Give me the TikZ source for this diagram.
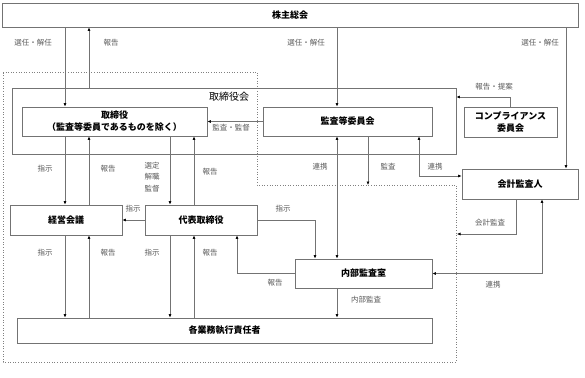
\documentclass[tikz,border=0pt]{standalone}
\usepackage{fontspec}
\setmainfont{Noto Sans CJK JP}
\usetikzlibrary{arrows.meta}

\tikzset{
  box/.style={draw=black!55, line width=0.8pt, fill=white, inner sep=0pt,
              align=center, font=\fontsize{9}{12}\selectfont\bfseries},
  lbl/.style={text=black!65, inner sep=0pt, align=center,
              font=\fontsize{7.5}{11.5}\selectfont},
  arr/.style={draw=black!55, line width=0.6pt, -{Latex[length=3.5pt,width=3pt,black]}},
  biarr/.style={draw=black!55, line width=0.6pt,
                {Latex[length=3.5pt,width=3pt,black]}-{Latex[length=3.5pt,width=3pt,black]}},
  region/.style={draw=black!50, line width=0.6pt, dotted},
}

\begin{document}
\begin{tikzpicture}[x=1pt, y=-1pt]
    \useasboundingbox (0,0) rectangle (585,377);

    % 取締役会の管轄範囲（点線）
    \coordinate (dotTop) at (368,185);
    \coordinate (dotSide) at (457,234);
    \draw[region] (3,72) -- (257,72) -- (257,185) -- (456,185) -- (456,362) -- (3,362) -- cycle;

    % 取締役会
    \node[box, fill=none, minimum width=444, minimum height=66] (torikai) at (234,121) {};
    \node[font=\fontsize{10}{12}\selectfont, inner sep=0pt] (torikaiLbl) at (229,97) {取締役会};

    % 機関
    \node[box, minimum width=576, minimum height=24] (kabu) at (290,15) {株主総会};
    \node[box, minimum width=185, minimum height=29] (tori) at (114.5,121.5) {取締役\\（監査等委員であるものを除く）};
    \node[box, minimum width=169, minimum height=29] (kansa) at (347.5,121.5) {監査等委員会};
    \node[box, minimum width=93, minimum height=30] (comp) at (510.5,122) {コンプライアンス\\委員会};
    \node[box, minimum width=116, minimum height=30] (kaikei) at (520,184) {会計監査人};
    \node[box, minimum width=112, minimum height=30] (keiei) at (66,220) {経営会議};
    \node[box, minimum width=112, minimum height=30] (daihyo) at (201,220) {代表取締役};
    \node[box, minimum width=137, minimum height=29] (naibu) at (363.5,273.5) {内部監査室};
    \node[box, minimum width=415, minimum height=25] (gyomu) at (224.5,330.5) {各業務執行責任者};

    % 株主総会との関係
    \draw[arr] (kabu.south -| 65,0) -- (tori.north -| 65,0);
    \draw[arr] (torikai.north -| 89,0) -- (kabu.south -| 89,0);
    \draw[arr] (kabu.south -| 337,0) -- (kansa.north -| 337,0);
    \draw[arr] (kabu.south -| 566,0) -- (kaikei.north -| 566,0);
    \node[lbl] (l1) at (33,43) {選任・解任};
    \node[lbl] (l2) at (111,43) {報告};
    \node[lbl] (l3) at (306,43) {選任・解任};
    \node[lbl] (l4) at (540,43) {選任・解任};

    % コンプライアンス委員会
    \draw[arr] (comp.north) |- (torikai.east |- 0,97);
    \node[lbl] (l5) at (494,87) {報告・提案};

    % 監査等委員会
    \draw[arr] (kansa.west) -- (tori.east);
    \node[lbl] (l6) at (231,128) {監査・監督};
    \draw[biarr] (kansa.south -| 337,0) -- (naibu.north -| 337,0);
    \node[lbl] (l7) at (320,167) {連携};
    \draw[arr] (kansa.south -| 368,0) -- (dotTop);
    \node[lbl] (l8) at (388,167) {監査};
    \draw[biarr] (kansa.south -| 419,0) |- (kaikei.west |- 0,176);
    \node[lbl] (l9) at (435,167) {連携};

    % 会計監査人
    \draw[arr] (kaikei.south -| 516,0) |- (dotSide);
    \node[lbl] (l10) at (490,223) {会計監査};
    \draw[biarr] (naibu.east) -| (kaikei.south -| 542,0);
    \node[lbl] (l11) at (493,285) {連携};

    % 取締役と経営会議・代表取締役
    \draw[arr] (tori.south -| 65,0) -- (keiei.north -| 65,0);
    \draw[arr] (keiei.north -| 89,0) -- (tori.south -| 89,0);
    \draw[arr] (tori.south -| 170,0) -- (daihyo.north -| 170,0);
    \draw[arr] (daihyo.north -| 194,0) -- (tori.south -| 194,0);
    \node[lbl] (l12) at (45,169) {指示};
    \node[lbl] (l13) at (108,169) {報告};
    \node[lbl] (l14) at (152,177) {選定\\解職\\監督};
    \node[lbl] (l15) at (210,172) {報告};

    % 代表取締役
    \draw[arr] (daihyo.west) -- (keiei.east);
    \node[lbl] (l16) at (133,209) {指示};
    \draw[arr] (daihyo.east) -| (naibu.north -| 315,0);
    \node[lbl] (l17) at (283,209) {指示};

    % 各業務執行責任者
    \draw[arr] (keiei.south -| 65,0) -- (gyomu.north -| 65,0);
    \draw[arr] (gyomu.north -| 89,0) -- (keiei.south -| 89,0);
    \draw[arr] (daihyo.south -| 170,0) -- (gyomu.north -| 170,0);
    \draw[arr] (gyomu.north -| 194,0) -- (daihyo.south -| 194,0);
    \foreach \x/\t [count=\i] in {45/指示, 108/報告, 152/指示, 210/報告}
        \node[lbl] (b\i) at (\x,253) {\t};

    % 内部監査室
    \draw[arr] (naibu.west) -| (daihyo.south -| 237,0);
    \node[lbl] (l18) at (275,283) {報告};
    \draw[arr] (naibu.south -| 337,0) -- (gyomu.north -| 337,0);
    \node[lbl] (l19) at (366,300) {内部監査};
\end{tikzpicture}
\end{document}
